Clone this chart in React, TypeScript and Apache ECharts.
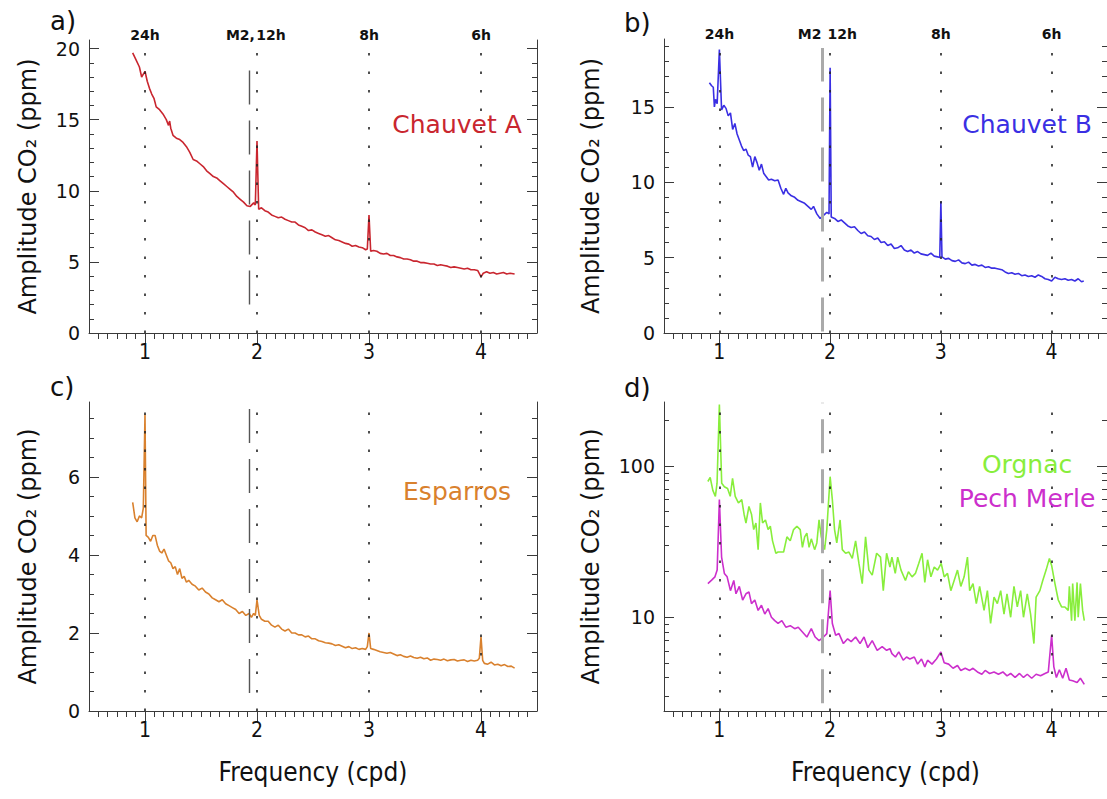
import React, { useEffect, useRef } from "react";
import * as echarts from "echarts";

// ---------- data ----------
const chauvetAFreq = [0.89,0.92,0.95,0.97,0.985,1.0,1.02,1.04,1.06,1.08,1.1,1.13,1.16,1.19,1.21,1.22,1.23,1.25,1.28,1.31,1.34,1.37,1.4,1.43,1.46,1.49,1.52,1.55,1.58,1.61,1.64,1.67,1.7,1.73,1.76,1.79,1.82,1.85,1.88,1.91,1.94,1.97,1.985,2.0,2.015,2.04,2.07,2.1,2.13,2.16,2.19,2.22,2.25,2.28,2.31,2.34,2.37,2.4,2.43,2.46,2.49,2.52,2.55,2.58,2.61,2.64,2.67,2.7,2.73,2.76,2.79,2.82,2.85,2.88,2.91,2.94,2.97,2.985,3.0,3.015,3.04,3.07,3.1,3.13,3.16,3.19,3.22,3.25,3.28,3.31,3.34,3.37,3.4,3.43,3.46,3.49,3.52,3.55,3.58,3.61,3.64,3.67,3.7,3.73,3.76,3.79,3.82,3.85,3.88,3.91,3.94,3.97,3.99,4.0,4.02,4.05,4.08,4.11,4.14,4.17,4.2,4.23,4.26,4.3];
const chauvetAAmp = [19.7,19.2,18.7,18.0,18.2,18.4,17.7,17.2,16.8,16.5,15.9,15.7,15.4,15.0,14.6,14.9,14.4,13.9,13.7,13.6,13.4,13.1,12.7,12.2,12.1,11.9,11.7,11.4,11.2,11.0,10.9,10.7,10.5,10.3,10.1,9.9,9.6,9.4,9.2,8.95,8.9,9.15,9.0,13.5,8.7,8.8,8.6,8.5,8.3,8.2,8.1,8.15,8.0,7.9,7.8,7.8,7.6,7.5,7.4,7.2,7.25,7.1,7.0,6.9,6.8,6.85,6.7,6.55,6.5,6.4,6.3,6.25,6.1,6.15,6.05,6.0,5.85,5.9,8.3,5.75,5.8,5.75,5.6,5.55,5.6,5.45,5.45,5.35,5.3,5.2,5.2,5.15,5.05,5.05,4.95,4.95,4.9,4.85,4.85,4.75,4.8,4.75,4.7,4.6,4.65,4.6,4.55,4.5,4.55,4.45,4.45,4.4,4.1,3.95,4.2,4.3,4.2,4.25,4.15,4.2,4.25,4.15,4.2,4.15];

const chauvetBFreq = [0.91,0.93,0.945,0.955,0.965,0.98,1.0,1.02,1.04,1.06,1.08,1.1,1.12,1.14,1.16,1.18,1.2,1.22,1.24,1.26,1.28,1.3,1.32,1.34,1.36,1.38,1.4,1.42,1.445,1.47,1.5,1.53,1.555,1.58,1.6,1.62,1.65,1.68,1.71,1.74,1.77,1.8,1.83,1.85,1.88,1.91,1.94,1.97,1.99,2.0,2.01,2.04,2.07,2.1,2.13,2.16,2.19,2.22,2.25,2.28,2.31,2.34,2.37,2.4,2.43,2.46,2.49,2.52,2.55,2.58,2.61,2.64,2.67,2.7,2.73,2.76,2.79,2.82,2.85,2.88,2.91,2.94,2.97,2.99,3.0,3.01,3.04,3.07,3.1,3.13,3.16,3.19,3.22,3.25,3.28,3.31,3.34,3.37,3.4,3.43,3.46,3.49,3.52,3.55,3.58,3.61,3.64,3.67,3.7,3.73,3.76,3.79,3.82,3.85,3.88,3.91,3.94,3.97,4.0,4.03,4.06,4.09,4.12,4.15,4.18,4.21,4.24,4.27,4.29];
const chauvetBAmp = [16.6,16.4,16.3,15.0,15.5,15.2,18.8,14.8,15.1,14.9,14.4,14.6,13.5,13.9,13.2,12.8,12.4,12.1,12.2,11.8,11.7,11.0,11.7,11.3,10.8,11.2,10.6,10.4,10.15,10.2,10.1,10.15,9.6,9.2,9.6,9.3,9.1,9.0,8.8,8.7,8.6,8.4,8.2,8.4,7.9,7.6,7.8,8.0,7.9,17.6,7.7,7.6,7.4,7.5,7.3,7.1,7.0,7.05,6.8,6.6,6.7,6.45,6.4,6.2,6.3,6.0,6.05,5.8,5.9,5.6,5.65,5.8,5.5,5.4,5.5,5.3,5.4,5.25,5.2,5.15,5.3,5.1,5.05,5.0,8.7,5.05,4.9,4.95,4.8,4.75,4.85,4.65,4.6,4.7,4.5,4.55,4.45,4.5,4.35,4.4,4.3,4.3,4.25,4.2,4.05,3.95,4.0,3.9,3.95,3.8,3.85,3.75,3.8,3.7,3.85,3.75,3.6,3.55,3.45,3.7,3.6,3.55,3.6,3.5,3.55,3.45,3.6,3.4,3.45];

const esparrosFreq = [0.89,0.91,0.93,0.95,0.97,0.985,1.0,1.01,1.03,1.05,1.07,1.09,1.11,1.13,1.15,1.17,1.19,1.21,1.23,1.25,1.27,1.29,1.31,1.33,1.35,1.37,1.39,1.42,1.45,1.48,1.51,1.54,1.57,1.6,1.63,1.66,1.69,1.72,1.75,1.78,1.81,1.84,1.87,1.9,1.93,1.95,1.97,1.985,2.0,2.02,2.04,2.07,2.1,2.13,2.16,2.19,2.22,2.25,2.28,2.31,2.34,2.37,2.4,2.43,2.46,2.49,2.52,2.55,2.58,2.61,2.64,2.67,2.7,2.73,2.76,2.79,2.82,2.85,2.88,2.91,2.94,2.97,2.985,3.0,3.015,3.04,3.07,3.1,3.13,3.16,3.19,3.22,3.25,3.28,3.31,3.34,3.37,3.4,3.43,3.46,3.49,3.52,3.55,3.58,3.61,3.64,3.67,3.7,3.73,3.76,3.79,3.82,3.85,3.88,3.91,3.94,3.97,3.985,4.0,4.015,4.03,4.06,4.09,4.12,4.15,4.18,4.21,4.24,4.27,4.3];
const esparrosAmp = [5.35,4.95,4.85,5.0,4.95,5.2,7.6,4.5,4.45,4.35,4.5,4.5,4.25,4.1,4.05,4.15,4.0,3.85,3.8,3.65,3.7,3.5,3.65,3.4,3.45,3.3,3.35,3.25,3.2,3.1,3.15,3.05,3.0,2.9,2.85,2.8,2.85,2.75,2.7,2.65,2.6,2.5,2.55,2.45,2.5,2.4,2.5,2.45,2.85,2.45,2.35,2.3,2.3,2.2,2.15,2.2,2.1,2.05,2.1,2.0,2.0,1.95,1.95,1.9,1.92,1.85,1.85,1.8,1.78,1.75,1.74,1.72,1.68,1.7,1.66,1.62,1.65,1.6,1.62,1.58,1.6,1.58,1.65,2.0,1.6,1.58,1.55,1.52,1.5,1.48,1.5,1.46,1.42,1.44,1.4,1.38,1.41,1.37,1.35,1.38,1.34,1.36,1.3,1.33,1.32,1.3,1.33,1.29,1.31,1.32,1.28,1.3,1.31,1.27,1.3,1.28,1.3,1.35,1.9,1.3,1.22,1.2,1.25,1.18,1.2,1.16,1.19,1.14,1.15,1.1];

const orgnacFreq = [0.896,0.917,0.941,0.964,0.979,1.0,1.021,1.045,1.074,1.098,1.119,1.143,1.172,1.202,1.223,1.24,1.267,1.29,1.31,1.33,1.35,1.37,1.39,1.416,1.44,1.46,1.48,1.51,1.53,1.58,1.61,1.64,1.67,1.7,1.73,1.75,1.77,1.79,1.81,1.83,1.86,1.88,1.9,1.92,1.95,1.97,2.0,2.02,2.04,2.06,2.09,2.11,2.14,2.17,2.2,2.23,2.26,2.29,2.32,2.35,2.38,2.42,2.455,2.48,2.51,2.54,2.558,2.588,2.61,2.64,2.68,2.707,2.74,2.77,2.8,2.83,2.855,2.88,2.91,2.94,2.97,3.003,3.03,3.06,3.09,3.12,3.15,3.18,3.21,3.24,3.26,3.29,3.32,3.35,3.39,3.42,3.449,3.48,3.51,3.54,3.57,3.597,3.63,3.66,3.69,3.72,3.746,3.78,3.81,3.84,3.86,3.894,3.92,3.95,3.98,4.0,4.03,4.06,4.09,4.12,4.15,4.16,4.18,4.19,4.21,4.23,4.24,4.26,4.28,4.295];
const orgnacAmp = [79,84,69,63,77,255,77,73,71,63,83,63,57,60,48,42,54,48,38,42,28,57,42,44,38,40,32,26.5,27,27,34,32,38,40,38,29,34,36,29,33,28,31,44,34,28,38,85,60,38,31,44,28,26.5,27,24.5,32,22.7,16.7,34,20.5,19,26.5,25,15,26.5,21.5,25,19.5,25,20.5,17.5,20,18.5,19.5,22.7,26.5,17,24,18.5,21.5,20.5,22.7,18.5,19.5,15,17.5,20.5,16,18.5,25,15,16.7,12.3,16,11.1,15,9.1,13.6,12.3,15,10.5,14.3,10,16,11.7,15,10,14.3,10.5,6.7,13.6,15,17.5,20.5,24.5,22,16.7,13,11.7,11.7,11.1,16,9.5,16.7,9.5,17,10,16.7,11.1,9.5];

const pechMerleFreq = [0.896,0.93,0.96,0.98,1.0,1.02,1.045,1.07,1.1,1.13,1.15,1.18,1.21,1.24,1.267,1.29,1.32,1.35,1.38,1.41,1.44,1.47,1.5,1.53,1.564,1.6,1.64,1.68,1.712,1.75,1.79,1.83,1.865,1.9,1.94,1.97,2.0,2.02,2.05,2.08,2.12,2.158,2.19,2.23,2.27,2.306,2.34,2.38,2.425,2.47,2.51,2.54,2.558,2.59,2.62,2.66,2.69,2.72,2.76,2.79,2.825,2.855,2.88,2.92,2.96,3.0,3.03,3.07,3.11,3.15,3.18,3.22,3.26,3.29,3.33,3.37,3.4,3.44,3.48,3.52,3.56,3.597,3.63,3.67,3.71,3.746,3.78,3.82,3.86,3.9,3.94,3.97,4.0,4.02,4.043,4.07,4.1,4.13,4.16,4.19,4.23,4.26,4.295];
const pechMerleAmp = [16.7,17.6,18.5,20.5,60,25,19.5,18.5,15,17.5,14.3,16,13,14.3,14.7,12.3,13,11.1,12,10.5,11.4,10,9.5,9.1,9.5,8.6,8.8,8.4,8.6,8.0,7.4,8.4,7.4,7.0,7.4,7.8,15,9.1,7.6,7.8,6.7,7.2,6.9,7.4,6.7,7.4,6.3,7.0,6.05,6.4,6.05,6.2,5.75,5.46,5.9,5.2,5.46,5.3,5.46,4.9,5.3,4.7,5.2,4.9,5.3,5.9,5.0,4.9,4.6,4.8,4.45,4.6,4.45,4.6,4.35,4.2,4.45,4.25,4.35,4.2,4.35,4.1,4.25,4.0,4.25,4.0,4.2,3.95,4.2,4.1,4.25,4.35,7.6,4.7,4.0,4.5,3.95,4.6,3.85,3.8,3.7,3.95,3.6];

// axis ticks and labels
const xMajorTicks = [1, 2, 3, 4];
const xMinorTicks = [7,8,9,10,11,13,14,15,16,17,18,19,20,21,22,23,25,26,27,28,29,30,31,32,33,34,35,37,38,39,40,41,42,43,44,45,46,47,49,50,51,52,53].map((k) => k / 12);
const yMajorA = [0, 5, 10, 15, 20];
const yMinorA = [1,2,3,4,6,7,8,9,11,12,13,14,16,17,18,19];
const yMajorB = [0, 5, 10, 15];
const yMinorB = [1,2,3,4,6,7,8,9,11,12,13,14,16,17,18,19];
const yMajorC = [0, 2, 4, 6];
const yMinorC = [0.5,1,1.5,2.5,3,3.5,4.5,5,5.5,6.5,7,7.5];
const yMajorD = [10, 100];
const yMinorD = [3,4,5,6,7,8,9,20,30,40,50,60,70,80,90,200];
const periodLabels = ["24h", "12h", "8h", "6h"];
const M2 = 1.932;

const pairs = (f: number[], v: number[]) => f.map((x, i) => [x, v[i]]);

const SANS = "'DejaVu Sans', 'Noto Sans', sans-serif";
const NARROW = "'Liberation Sans Narrow', 'DejaVu Sans Condensed', 'DejaVu Sans', sans-serif";
const AX = "#3a3a3a";

const grids = [
  { left: 89, top: 40, width: 448, height: 293 },
  { left: 664, top: 39, width: 449, height: 294 },
  { left: 89, top: 402, width: 448, height: 309 },
  { left: 664, top: 402, width: 449, height: 309 },
];

const panels = [
  { type: "value", min: 0, max: 20.6, major: yMajorA, minor: yMinorA, nameGap: 49, dotTop: 19.9, m2: [2.0, 18.7], m2Style: { color: "#555", width: 1.4 }, top: true, topOffset: -5 },
  { type: "value", min: 0, max: 19.5, major: yMajorB, minor: yMinorB, nameGap: 61, dotTop: 18.8, m2: [0.1, 18.9], m2Style: { color: "#aaa", width: 3 }, top: true, topOffset: -5 },
  { type: "value", min: 0, max: 7.92, major: yMajorC, minor: yMinorC, nameGap: 49, dotTop: 7.92, m2: [0.46, 7.85], m2Style: { color: "#555", width: 1.4 }, top: false, topOffset: 0 },
  { type: "log", min: 2.4, max: 265, major: yMajorD, minor: yMinorD, nameGap: 61, dotTop: 265, m2: [2.7, 262], m2Style: { color: "#aaa", width: 3 }, top: false, topOffset: 0 },
];

const seriesDefs = [
  { panel: 0, name: "Chauvet A", f: chauvetAFreq, v: chauvetAAmp, color: "#c9262f", label: [3.786, 14.65] },
  { panel: 1, name: "Chauvet B", f: chauvetBFreq, v: chauvetBAmp, color: "#3a2fe3", label: [3.778, 13.8] },
  { panel: 2, name: "Esparros", f: esparrosFreq, v: esparrosAmp, color: "#d9812e", label: [3.786, 5.62] },
  { panel: 3, name: "Orgnac", f: orgnacFreq, v: orgnacAmp, color: "#88ee3c", label: [3.778, 101.6] },
  { panel: 3, name: "Pech Merle", f: pechMerleFreq, v: pechMerleAmp, color: "#cc2fcc", label: [3.778, 61.4] },
];

function buildOption() {
  const xAxis: any[] = [];
  const yAxis: any[] = [];
  grids.forEach((_, i) => {
    xAxis.push({
      type: "value", gridIndex: i, min: 0.5, max: 4.5, position: "bottom",
      axisLine: { show: true, lineStyle: { color: AX, width: 1 } },
      axisTick: { show: true, customValues: xMajorTicks, length: 11, lineStyle: { color: AX, width: 1 } },
      axisLabel: { show: true, customValues: xMajorTicks, fontSize: 21, fontFamily: NARROW, color: "#111", margin: 8 },
      splitLine: { show: false },
      name: i >= 2 ? "Frequency (cpd)" : "",
      nameLocation: "middle", nameGap: 48,
      nameTextStyle: { fontSize: 26, fontFamily: NARROW, color: "#111" },
    });
  });
  grids.forEach((_, i) => {
    xAxis.push({
      type: "value", gridIndex: i, min: 0.5, max: 4.5, position: "bottom",
      axisLine: { show: false },
      axisTick: { show: true, customValues: xMinorTicks, length: 6, lineStyle: { color: AX, width: 1 } },
      axisLabel: { show: false }, splitLine: { show: false },
    });
  });
  const yBase = (i: number) => {
    const p = panels[i];
    const o: any = { type: p.type, gridIndex: i, min: p.min, max: p.max, splitLine: { show: false } };
    if (p.type === "log") o.logBase = 10;
    return o;
  };
  grids.forEach((_, i) => {
    const p = panels[i];
    yAxis.push({
      ...yBase(i), position: "left",
      axisLine: { show: true, lineStyle: { color: AX, width: 1 } },
      axisTick: { show: true, inside: true, customValues: p.major, length: 10, lineStyle: { color: AX, width: 1 } },
      axisLabel: { show: true, customValues: p.major, fontSize: 19, fontFamily: SANS, color: "#111", margin: 9 },
      name: "Amplitude CO\u2082 (ppm)", nameLocation: "middle", nameGap: p.nameGap, nameRotate: 90,
      nameTextStyle: { fontSize: 24, fontFamily: SANS, color: "#111" },
    });
  });
  grids.forEach((_, i) => {
    const p = panels[i];
    yAxis.push({
      ...yBase(i), position: "right",
      axisLine: { show: true, lineStyle: { color: AX, width: 1 } },
      axisTick: { show: true, inside: true, customValues: p.major, length: 10, lineStyle: { color: AX, width: 1 } },
      axisLabel: { show: false },
    });
  });
  grids.forEach((_, i) => {
    const p = panels[i];
    yAxis.push({
      ...yBase(i), position: "left",
      axisLine: { show: false },
      axisTick: { show: true, inside: true, customValues: p.minor, length: 5, lineStyle: { color: AX, width: 1 } },
      axisLabel: { show: false },
    });
  });
  grids.forEach((_, i) => {
    const p = panels[i];
    yAxis.push({
      ...yBase(i), position: "right",
      axisLine: { show: false },
      axisTick: { show: true, inside: true, customValues: p.minor, length: 5, lineStyle: { color: AX, width: 1 } },
      axisLabel: { show: false },
    });
  });

  const usedPanel = new Set<number>();
  const series: any[] = seriesDefs.map((s) => {
    const p = panels[s.panel];
    const first = !usedPanel.has(s.panel);
    usedPanel.add(s.panel);
    const mpData: any[] = [
      { coord: s.label, label: { formatter: s.name, color: s.color, fontSize: 25, fontFamily: SANS } },
    ];
    const ser: any = {
      type: "line", name: s.name, xAxisIndex: s.panel, yAxisIndex: s.panel,
      data: pairs(s.f, s.v), showSymbol: false, symbol: "none",
      lineStyle: { color: s.color, width: 1.6 }, itemStyle: { color: s.color },
      z: 3,
    };
    if (first) {
      const ml: any[] = xMajorTicks.map((x) => [
        { coord: [x, p.min], lineStyle: { color: "#222", width: 1.6, type: [2.5, 16] } },
        { coord: [x, p.dotTop] },
      ]);
      ml.push([
        { coord: [M2, p.m2[0]], lineStyle: { ...p.m2Style, type: [34, 16] } },
        { coord: [M2, p.m2[1]] },
      ]);
      ser.markLine = { symbol: ["none", "none"], silent: true, label: { show: false }, animation: false, data: ml };
      if (p.top) {
        const topStyle = { fontSize: 14, fontWeight: "bold", fontFamily: SANS, color: "#111" };
        xMajorTicks.forEach((x, k) => {
          let dx = 0;
          if (k === 1) dx = s.panel === 0 ? 14 : 12;
          mpData.push({ coord: [x, p.max], label: { ...topStyle, formatter: periodLabels[k], offset: [dx, p.topOffset] } });
        });
        mpData.push({ coord: [M2, p.max], label: { ...topStyle, formatter: s.panel === 0 ? "M2," : "M2", offset: [s.panel === 0 ? -9 : -13, p.topOffset] } });
      }
    }
    ser.markPoint = { symbol: "circle", symbolSize: 0, silent: true, animation: false, label: { show: true, position: "inside" }, data: mpData };
    return ser;
  });

  const tStyle = { fontSize: 26, fontWeight: "normal", color: "#111", fontFamily: SANS };
  const title = [
    { text: "a)", left: 50, top: 8, padding: 0, textStyle: tStyle },
    { text: "b)", left: 624, top: 10, padding: 0, textStyle: tStyle },
    { text: "c)", left: 50, top: 374, padding: 0, textStyle: tStyle },
    { text: "d)", left: 624, top: 375, padding: 0, textStyle: tStyle },
  ];

  return {
    animation: false,
    backgroundColor: "#ffffff",
    title,
    grid: grids.map((g) => ({ ...g, containLabel: false })),
    xAxis, yAxis, series,
  };
}

export default function App() {
  const ref = useRef<HTMLDivElement>(null);
  useEffect(() => {
    if (!ref.current) return;
    const chart = echarts.init(ref.current, undefined, { renderer: "svg" });
    chart.setOption(buildOption() as any);
    return () => chart.dispose();
  }, []);
  return (
    <div
      ref={ref}
      style={{ position: "fixed", left: 0, top: 0, width: 1107, height: 799, background: "#fff" }}
    />
  );
}
